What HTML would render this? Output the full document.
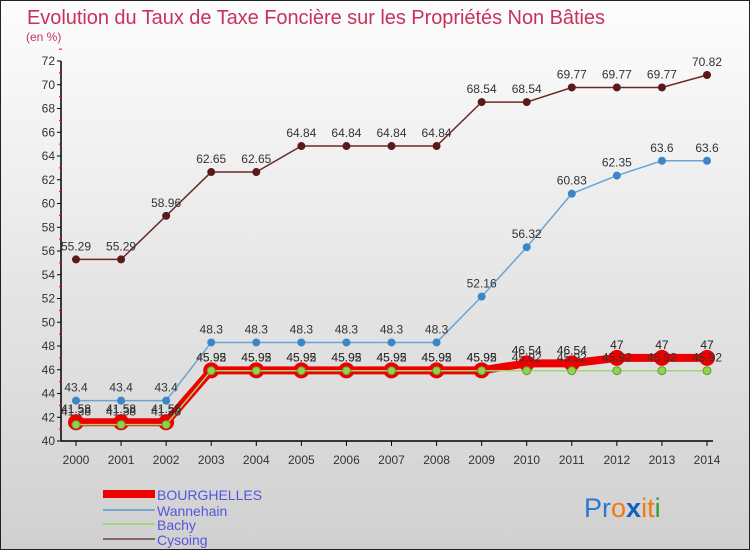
<!DOCTYPE html>
<html><head><meta charset="utf-8"><style>
body{margin:0}
#wrap{width:750px;height:550px;position:relative;overflow:hidden;background:linear-gradient(#fdfdfd,#d0d0d0);box-sizing:border-box;border:1px solid #222;font-family:"Liberation Sans",sans-serif}
svg text{font-family:"Liberation Sans",sans-serif}
</style></head><body>
<div id="wrap">
<svg id="svg" width="750" height="550">
<text x="26" y="23" font-size="20" fill="#c8325a" textLength="578">Evolution du Taux de Taxe Foncière sur les Propriétés Non Bâties</text>
<text x="25" y="40" font-size="12" fill="#c8325a">(en %)</text>
<g id="plot"></g>
<g>
<rect x="102" y="489" width="52" height="8" fill="#e00"/>
<text x="156" y="499" font-size="14" fill="#5555dd">BOURGHELLES</text>
<rect x="102" y="508" width="52" height="2" fill="#7aa8cc"/>
<text x="156" y="515" font-size="14" fill="#5555dd">Wannehain</text>
<rect x="102" y="522" width="52" height="2" fill="#9fd77f"/>
<text x="156" y="529" font-size="14" fill="#5555dd">Bachy</text>
<rect x="102" y="537" width="52" height="2" fill="#8a6666"/>
<text x="156" y="544" font-size="14" fill="#5555dd">Cysoing</text>
</g>
<text x="583" y="516" font-size="27"><tspan fill="#2a7ad0">Pr</tspan><tspan fill="#f07a10">o</tspan><tspan fill="#1060c0" font-weight="bold">x</tspan><tspan fill="#f07a10">i</tspan><tspan fill="#f07a10">t</tspan><tspan fill="#30a030">i</tspan></text>
</svg>
</div>
<script>
const years=[2000,2001,2002,2003,2004,2005,2006,2007,2008,2009,2010,2011,2012,2013,2014];
const yTicks=[40,42,44,46,48,50,52,54,56,58,60,62,64,66,68,70,72];
const cysoing=[55.29,55.29,58.96,62.65,62.65,64.84,64.84,64.84,64.84,68.54,68.54,69.77,69.77,69.77,70.82];
const wannehain=[43.4,43.4,43.4,48.3,48.3,48.3,48.3,48.3,48.3,52.16,56.32,60.83,62.35,63.6,63.6];
const bachy=[41.38,41.38,41.38,45.92,45.92,45.92,45.92,45.92,45.92,45.92,45.92,45.92,45.92,45.92,45.92];
const bourghelles=[41.58,41.58,41.58,45.95,45.95,45.95,45.95,45.95,45.95,45.95,46.54,46.54,47,47,47];
const NS="http://www.w3.org/2000/svg";
const g=document.getElementById('plot');
const x=i=>75+i*(706-75)/(years.length-1);
const y=v=>440-(v-40)*(380/32);
function mk(t,a,p){const e=document.createElementNS(NS,t);for(const k in a)e.setAttribute(k,a[k]);(p||g).appendChild(e);return e;}
let ax=mk('line',{x1:60,y1:60,x2:60,y2:440,stroke:'#000','stroke-width':1.5});


let bx=mk('line',{x1:60,y1:440,x2:712,y2:440,stroke:'#000','stroke-width':1.5});


yTicks.forEach(v=>{
 mk('line',{x1:56,y1:y(v),x2:60,y2:y(v),stroke:'#000'});
 mk('line',{x1:58,y1:y(v+1),x2:61,y2:y(v+1),stroke:'#e00'});
 const t=mk('text',{x:54,y:y(v)+4,'font-size':12,'text-anchor':'end',fill:'#333'});
 t.textContent=v;
 
 
});
years.forEach((yr,i)=>{
 mk('line',{x1:x(i),y1:440,x2:x(i),y2:445,stroke:'#000'});
 const t=mk('text',{x:x(i),y:463,'font-size':12,'text-anchor':'middle',fill:'#333'});
 t.textContent=yr;
 
 
});
function series(name,vals,color,w,dotFill,r,dotStroke,labelColor){
 const sg=mk('g',{});
 
 
 const pl=mk('polyline',{points:vals.map((v,i)=>x(i)+','+y(v)).join(' '),fill:'none',stroke:color,'stroke-width':w},sg);
 
 
 vals.forEach((v,i)=>{
  const c=mk('circle',{cx:x(i),cy:y(v),r:r,fill:dotFill,stroke:dotStroke||'none','stroke-width':1},sg);
  
  
  const t=mk('text',{x:x(i),y:y(v)-9,'font-size':12,'text-anchor':'middle',fill:labelColor},sg);
  t.textContent=String(v);
  
  
 });
}
series('cysoing',cysoing,'#6b2a2a',1.5,'#5a1a1a',4,null,'#333');
series('wannehain',wannehain,'#6aa4d4',1.5,'#3a86c8',4,null,'#333');
series('bourghelles',bourghelles,'#ee0000',8,'#ee0000',8,null,'#222');
series('bachy',bachy,'#9ed86e',1.5,'#8fd34e',4,'#6a9a30','#333');
</script>
</body></html>
